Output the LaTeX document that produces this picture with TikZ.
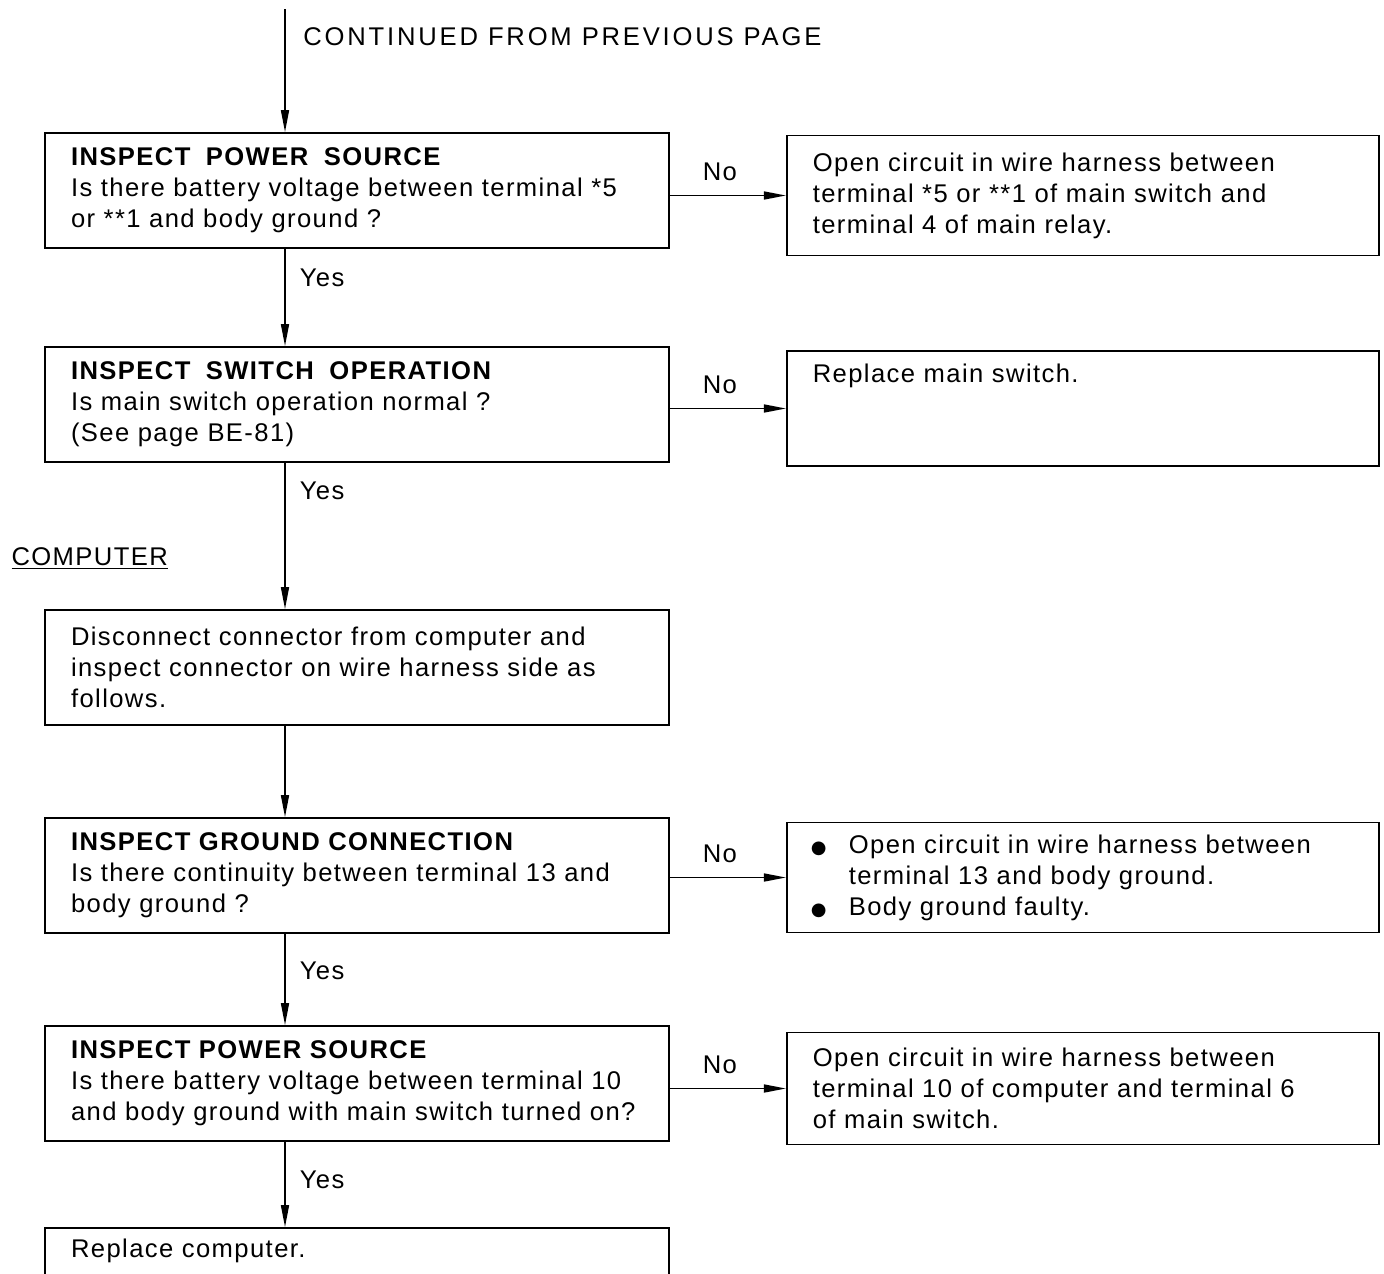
\documentclass[tikz,border=0pt]{standalone}
\usepackage{fontspec}
\setmainfont{Liberation Sans}[LetterSpace=5.5]
\newfontfamily\dotfont{DejaVu Sans}
\usetikzlibrary{
  arrows.meta,
  positioning
}
\newcommand{\bulletmark}{\hspace*{-1pt}\makebox[19pt][l]{\dotfont\fontsize{9pt}{9pt}\selectfont ●}}

\begin{document}
\begin{tikzpicture}[
  node distance=48pt,
  txt/.style={font=\fontsize{12.8pt}{15.5pt}\selectfont},
  check/.style={txt, draw, line width=0.9pt, text width=286pt, inner xsep=13pt,
    minimum height=57.5pt, align=left},
  result/.style={txt, draw, line width=0.9pt, text width=270pt, inner xsep=13pt,
    minimum height=57.5pt, align=left},
  arrow/.style={-{Triangle[length=11pt, width=4pt]}, line width=0.8pt},
  answer/.style={txt, inner sep=2pt}
]

  \useasboundingbox (0,0) rectangle (692pt,-636.5pt);
  \clip (0,0) rectangle (692pt,-636.5pt);

  % left column: checks
  \node[check] (B1) at (178.5pt,-95.25pt) {
    \textbf{INSPECT\hspace{3.5pt} POWER\hspace{3.5pt} SOURCE}\\
    Is there battery voltage between terminal *5\\
    or **1 and body ground ?
  };

  \node[check, below=48.6pt of B1] (B2) {
    \textbf{INSPECT\hspace{3.5pt} SWITCH\hspace{3.5pt} OPERATION}\\
    Is main switch operation normal ?\\
    (See page BE-81)
  };

  \node[check, below=73.1pt of B2] (B3) {
    Disconnect connector from computer and\\
    inspect connector on wire harness side as\\
    follows.
  };

  \node[check, below=45.6pt of B3] (B4) {
    \textbf{INSPECT GROUND CONNECTION}\\
    Is there continuity between terminal 13 and\\
    body ground ?
  };

  \node[check, below=45.6pt of B4] (B5) {
    \textbf{INSPECT POWER SOURCE}\\
    Is there battery voltage between terminal 10\\
    and body ground with main switch turned on?
  };

  \node[check, below=42.6pt of B5, minimum height=0pt, inner ysep=5.5pt] (B6) {
    Replace computer.\\~\\~
  };

  % right column: results
  \node[result, right=58pt of B1, yshift=-2.5pt, minimum height=60pt] (R1) {
    Open circuit in wire harness between\\
    terminal *5 or **1 of main switch and\\
    terminal 4 of main relay.
  };

  \node[result, right=58pt of B2, yshift=-2pt] (R2) {
    Replace main switch.\\~\\\strut
  };

  \node[result, right=58pt of B4, yshift=-1pt, minimum height=55pt] (R4) {
    \bulletmark Open circuit in wire harness between\\
    \hspace*{18pt}terminal 13 and body ground.\\
    \bulletmark Body ground faulty.
  };

  \node[result, right=58pt of B5, yshift=-2.5pt, minimum height=56pt] (R5) {
    Open circuit in wire harness between\\
    terminal 10 of computer and terminal 6\\
    of main switch.
  };

  % labels
  \coordinate (start) at ([xshift=-36pt, yshift=61.5pt]B1.north);
  \node[txt, anchor=base west, inner sep=0pt] (cont) at ([xshift=9pt, yshift=-18pt]start)
    {\addfontfeature{LetterSpace=11}CONTINUED FROM PREVIOUS PAGE};
  \node[txt, anchor=base west, inner sep=0pt] (comp) at ([xshift=-16.5pt, yshift=22pt]B3.north west)
    {\underline{COMPUTER}};

  % yes path
  \draw[arrow] (start) -- ([xshift=-36pt]B1.north);
  \draw[arrow] ([xshift=-36pt]B1.south) -- node[answer, right=5pt, pos=0.3] (yes1) {Yes}
    ([xshift=-36pt]B2.north);
  \draw[arrow] ([xshift=-36pt]B2.south) -- node[answer, right=5pt, pos=0.19] (yes2) {Yes}
    ([xshift=-36pt]B3.north);
  \draw[arrow] ([xshift=-36pt]B3.south) -- ([xshift=-36pt]B4.north);
  \draw[arrow] ([xshift=-36pt]B4.south) -- node[answer, right=5pt, pos=0.4] (yes4) {Yes}
    ([xshift=-36pt]B5.north);
  \draw[arrow] ([xshift=-36pt]B5.south) -- node[answer, right=5pt, pos=0.44] (yes5) {Yes}
    ([xshift=-36pt]B6.north);

  % no path
  \draw[arrow] (R1.west -| B1.east) -- node[answer, above=5pt, xshift=-4pt] (no1) {No} (R1.west);
  \draw[arrow] (R2.west -| B2.east) -- node[answer, above=5pt, xshift=-4pt] (no2) {No} (R2.west);
  \draw[arrow] (R4.west -| B4.east) -- node[answer, above=5pt, xshift=-4pt] (no4) {No} (R4.west);
  \draw[arrow] (R5.west -| B5.east) -- node[answer, above=5pt, xshift=-4pt] (no5) {No} (R5.west);

\end{tikzpicture}
\end{document}
